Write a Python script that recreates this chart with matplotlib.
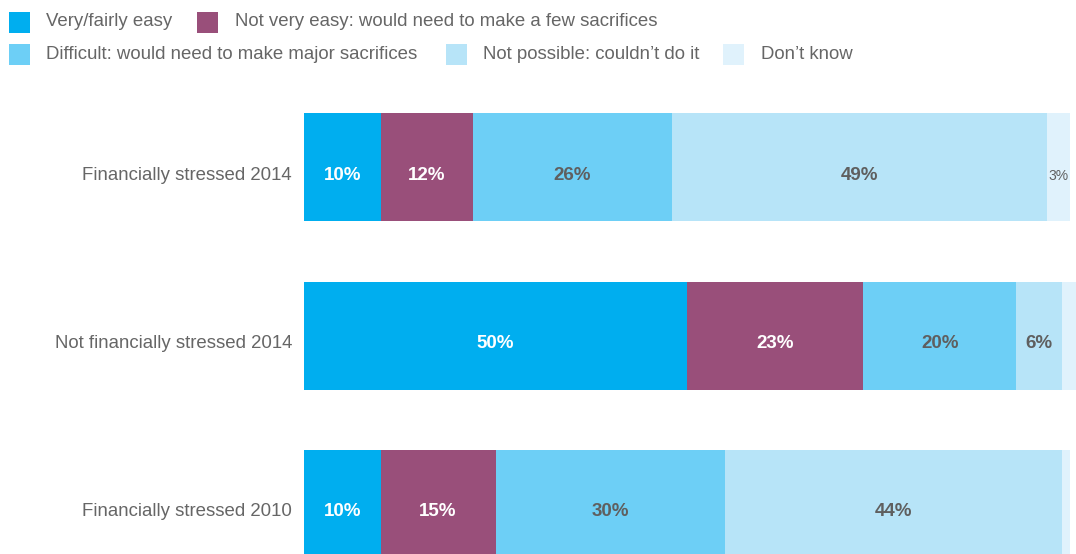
import matplotlib
matplotlib.use("Agg")
import matplotlib.pyplot as plt
from matplotlib.patches import Rectangle

plt.rcParams['font.family'] = ['Liberation Sans', 'DejaVu Sans']

categories = ["Financially stressed 2014", "Not financially stressed 2014", "Financially stressed 2010"]
series_names = [
    "Very/fairly easy",
    "Not very easy: would need to make a few sacrifices",
    "Difficult: would need to make major sacrifices",
    "Not possible: couldn\u2019t do it",
    "Don\u2019t know",
]
very_easy = [10, 50, 10]
not_very_easy = [12, 23, 15]
difficult = [26, 20, 30]
not_possible = [49, 6, 44]
dont_know = [3, 2, 1]
# which segment values get a printed label
show_label = [
    [True, True, True],
    [True, True, True],
    [True, True, True],
    [True, True, True],
    [True, False, False],
]

colors = ["#00AEEF", "#994F7A", "#6DCFF6", "#B7E4F8", "#E0F2FC"]
label_colors = ["white", "white", "#5f5f5f", "#5f5f5f", "#5f5f5f"]
text_grey = "#666666"

W, H = 1076, 554
fig = plt.figure(figsize=(W / 100, H / 100), dpi=100)

# bar area: rows spaced 168 px, first row centred at 167.5 px from the top
x0_px = 304
px_per_unit = 7.66
x_right = (W - x0_px) / px_per_unit
row_gap = 168.0
first_center = 167.5
y_top = -first_center / row_gap
y_bot = (H - first_center) / row_gap
text_drop = 8.5 / row_gap  # labels sit a little below the bar middle

ax = fig.add_axes([x0_px / W, 0, (W - x0_px) / W, 1])
ax.set_xlim(0, x_right)
ax.set_ylim(y_bot, y_top)
ax.axis("off")

series = [very_easy, not_very_easy, difficult, not_possible, dont_know]
bar_h = 108 / row_gap
left = [0.0] * len(categories)
for s, (vals, col, lcol) in enumerate(zip(series, colors, label_colors)):
    ax.barh(range(len(categories)), vals, left=left, height=bar_h, color=col, linewidth=0)
    for i, v in enumerate(vals):
        if show_label[s][i]:
            cx = left[i] + v / 2
            small = v < 4
            ax.text(cx, i + text_drop, f"{v}%", ha="center", va="center", color=lcol,
                    fontsize=10 if small else 13.5, fontweight="normal" if small else "bold")
    left = [l + v for l, v in zip(left, vals)]

for i, cat in enumerate(categories):
    ax.text(-12 / px_per_unit, i + text_drop, cat, ha="right", va="center", color=text_grey,
            fontsize=13.4, clip_on=False)

# legend drawn in pixel positions
legend_items = [
    (9, 22, 46, 0),
    (197, 22, 235, 1),
    (9, 54, 46, 2),
    (446, 54, 483, 3),
    (723, 54, 761, 4),
]
for sx, cy, tx, k in legend_items:
    fig.patches.append(Rectangle((sx / W, 1 - (cy + 10.5) / H), 21 / W, 21 / H,
                                 transform=fig.transFigure, facecolor=colors[k],
                                 edgecolor="none"))
    fig.text(tx / W, 1 - cy / H, series_names[k], ha="left", va="center",
             color=text_grey, fontsize=13.4)

fig.savefig("out.png", dpi=100)
